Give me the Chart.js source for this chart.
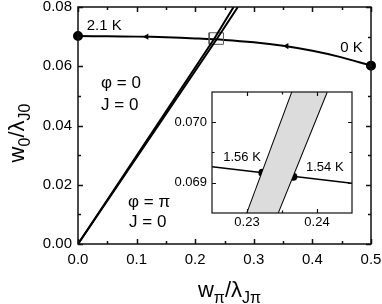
<!DOCTYPE html>
<html>
<head>
<meta charset="utf-8">
<script src="https://cdn.jsdelivr.net/npm/chart.js@4/dist/chart.umd.min.js"></script>
<style>
  html, body { margin: 0; padding: 0; background: #fff; }
  #wrap { position: relative; width: 382px; height: 304px; }
  #main { position: absolute; left: 0; top: 0; }
  #inset { position: absolute; left: 160px; top: 80px; }
</style>
</head>
<body>
<div id="wrap">
  <canvas id="main" width="382" height="304"></canvas>
  <canvas id="inset" width="200" height="150"></canvas>
</div>
<script>
// ---------- data (main plot) ----------
const xTicks = [0, 0.1, 0.2, 0.3, 0.4, 0.5];
const yTicks = [0, 0.02, 0.04, 0.06, 0.08];
const curveX = [0, 0.05, 0.1, 0.15, 0.2, 0.25, 0.3, 0.35, 0.4, 0.45, 0.5];
const curveY = [0.0702, 0.0701, 0.0700, 0.0698, 0.0694, 0.0689, 0.0681, 0.0669, 0.0652, 0.0630, 0.0602];
const arrowX = [0.117, 0.356];
const arrowY = [0.0700, 0.0668];
const lineAX = [0, 0.2322, 0.2655];
const lineAY = [0, 0.0692, 0.08];
const lineBX = [0, 0.2366, 0.2728];
const lineBY = [0, 0.0691, 0.08];
const boxX = [0.2238, 0.2482, 0.2482, 0.2238, 0.2238];
const boxY = [0.0674, 0.0674, 0.0713, 0.0713, 0.0674];

// ---------- data (inset) ----------
const insetXTicks = [0.23, 0.24];
const insetYTicks = [0.069, 0.070];
const insetCurveX = [0.225, 0.245];
const insetCurveY = [0.069265, 0.068991];
const bandLeftX = [0.23004, 0.23647];
const bandLeftY = [0.0685, 0.0705];
const bandRightX = [0.23439, 0.24139];
const bandRightY = [0.0685, 0.0705];
const crossX = [0.23219, 0.23662];
const crossY = [0.069166, 0.069100];

const FONT = "'Liberation Sans', Arial, Helvetica, sans-serif";
const pts = (xs, ys) => xs.map((x, i) => ({ x: x, y: ys[i] }));

function drawRich(ctx, parts, x, y) {
  let total = 0;
  parts.forEach(p => { ctx.font = p.size + 'px ' + FONT; p.w = ctx.measureText(p.t).width; total += p.w; });
  let cx = x - total / 2;
  ctx.textAlign = 'left';
  ctx.textBaseline = 'alphabetic';
  parts.forEach(p => { ctx.font = p.size + 'px ' + FONT; ctx.fillText(p.t, cx, y + (p.dy || 0)); cx += p.w; });
}

function frameAndTicks(chart, opt) {
  const ctx = chart.ctx, a = chart.chartArea;
  const xs = chart.scales.x, ys = chart.scales.y;
  ctx.save();
  ctx.strokeStyle = '#111';
  ctx.lineWidth = opt.lw;
  ctx.beginPath();
  const tick = (v, len, axis) => {
    if (axis === 'x') {
      const p = Math.round(xs.getPixelForValue(v)) + 0.5;
      ctx.moveTo(p, a.bottom); ctx.lineTo(p, a.bottom - len);
      ctx.moveTo(p, a.top); ctx.lineTo(p, a.top + len);
    } else {
      const p = Math.round(ys.getPixelForValue(v)) + 0.5;
      ctx.moveTo(a.left, p); ctx.lineTo(a.left + len, p);
      ctx.moveTo(a.right, p); ctx.lineTo(a.right - len, p);
    }
  };
  opt.xMajor.forEach(v => tick(v, opt.major, 'x'));
  opt.xMinor.forEach(v => tick(v, opt.minor, 'x'));
  opt.yMajor.forEach(v => tick(v, opt.major, 'y'));
  opt.yMinor.forEach(v => tick(v, opt.minor, 'y'));
  ctx.stroke();
  ctx.strokeRect(a.left, a.top, a.right - a.left, a.bottom - a.top);
  ctx.restore();
}

function drawAnnotations(chart, list) {
  const ctx = chart.ctx, xs = chart.scales.x, ys = chart.scales.y;
  ctx.save();
  ctx.fillStyle = '#000';
  ctx.textAlign = 'left';
  ctx.textBaseline = 'alphabetic';
  list.forEach(l => {
    ctx.font = l.size + 'px ' + FONT;
    ctx.fillText(l.text, xs.getPixelForValue(l.x), ys.getPixelForValue(l.y));
  });
  ctx.restore();
}

const mainAnnotations = [
  { text: '2.1 K', x: 0.0149, y: 0.0722, size: 15 },
  { text: '0 K', x: 0.4476, y: 0.0648, size: 15 },
  { text: 'φ = 0', x: 0.0393, y: 0.0527, size: 17 },
  { text: 'J = 0', x: 0.0393, y: 0.0452, size: 17 },
  { text: 'φ = π', x: 0.0854, y: 0.0125, size: 17 },
  { text: 'J = 0', x: 0.0871, y: 0.0057, size: 17 }
];
const insetAnnotations = [
  { text: '1.56 K', x: 0.22661, y: 0.06936, size: 13 },
  { text: '1.54 K', x: 0.23843, y: 0.069194, size: 13 }
];

const mainPlugin = {
  id: 'mainDeco',
  afterDraw(chart) {
    frameAndTicks(chart, {
      lw: 1.5, major: 5, minor: 3,
      xMajor: xTicks, xMinor: [0.05, 0.15, 0.25, 0.35, 0.45],
      yMajor: yTicks, yMinor: [0.01, 0.03, 0.05, 0.07]
    });
    drawAnnotations(chart, mainAnnotations);
    const ctx = chart.ctx, a = chart.chartArea;
    ctx.save();
    ctx.fillStyle = '#000';
    drawRich(ctx, [
      { t: 'w', size: 22 }, { t: 'π', size: 16, dy: 6 }, { t: '/', size: 22 },
      { t: 'λ', size: 22 }, { t: 'Jπ', size: 16, dy: 6 }
    ], (a.left + a.right) / 2 + 5, 297);
    ctx.translate(24, 133);
    ctx.rotate(-Math.PI / 2);
    drawRich(ctx, [
      { t: 'w', size: 22 }, { t: '0', size: 16, dy: 6 }, { t: '/', size: 22 },
      { t: 'λ', size: 22 }, { t: 'J0', size: 16, dy: 6 }
    ], 0, 0);
    ctx.restore();
  }
};

const insetPlugin = {
  id: 'insetDeco',
  beforeDatasetsDraw(chart) {
    const ctx = chart.ctx, a = chart.chartArea;
    ctx.save();
    ctx.fillStyle = '#fff';
    ctx.fillRect(a.left, a.top, a.right - a.left, a.bottom - a.top);
    ctx.restore();
  },
  afterDraw(chart) {
    frameAndTicks(chart, {
      lw: 1.2, major: 4, minor: 2.5,
      xMajor: insetXTicks, xMinor: [0.235],
      yMajor: insetYTicks, yMinor: [0.0695]
    });
    drawAnnotations(chart, insetAnnotations);
  }
};

function fixScale(w, h) {
  return function (scale) {
    if (w !== null) scale.width = w;
    if (h !== null) scale.height = h;
    scale.paddingTop = 0; scale.paddingBottom = 0;
    scale.paddingLeft = 0; scale.paddingRight = 0;
  };
}

new Chart(document.getElementById('main'), {
  type: 'scatter',
  data: {
    datasets: [
      { data: pts(lineAX, lineAY), showLine: true, borderColor: '#000', borderWidth: 2, pointRadius: 0 },
      { data: pts(lineBX, lineBY), showLine: true, borderColor: '#000', borderWidth: 2, pointRadius: 0 },
      { data: pts(boxX, boxY), showLine: true, borderColor: '#555', borderWidth: 1, pointRadius: 0 },
      { data: pts(curveX, curveY), showLine: true, borderColor: '#000', borderWidth: 2, tension: 0.3,
        clip: false, backgroundColor: '#000',
        pointRadius: c => (c.dataIndex === 0 || c.dataIndex === curveX.length - 1) ? 4 : 0 },
      { data: pts(arrowX, arrowY), showLine: false, pointStyle: 'triangle', rotation: -90,
        pointRadius: 3.5, backgroundColor: '#000', borderColor: '#000', borderWidth: 0 }
    ]
  },
  options: {
    responsive: false, animation: false, devicePixelRatio: 1,
    layout: { padding: { left: 0, top: 7, right: 11, bottom: 0 } },
    plugins: { legend: { display: false }, tooltip: { enabled: false } },
    scales: {
      x: {
        type: 'linear', min: 0, max: 0.5,
        afterBuildTicks: s => { s.ticks = xTicks.map(v => ({ value: v })); },
        afterFit: fixScale(null, 60),
        grid: { display: false, drawTicks: false }, border: { display: false },
        ticks: { callback: v => v.toFixed(1), color: '#000', font: { family: FONT, size: 15 }, padding: 7, maxRotation: 0 }
      },
      y: {
        type: 'linear', min: 0, max: 0.08,
        afterBuildTicks: s => { s.ticks = yTicks.map(v => ({ value: v })); },
        afterFit: fixScale(78, null),
        grid: { display: false, drawTicks: false }, border: { display: false },
        ticks: { callback: v => v.toFixed(2), color: '#000', font: { family: FONT, size: 15 }, padding: 6 }
      }
    }
  },
  plugins: [mainPlugin]
});

new Chart(document.getElementById('inset'), {
  type: 'scatter',
  data: {
    datasets: [
      { data: pts(bandLeftX.concat(bandRightX.slice().reverse()), bandLeftY.concat(bandRightY.slice().reverse())),
        showLine: true, fill: 'shape', backgroundColor: '#dcdcdc', borderWidth: 0, borderColor: 'rgba(0,0,0,0)', pointRadius: 0 },
      { data: pts(bandLeftX, bandLeftY), showLine: true, borderColor: '#000', borderWidth: 2, pointRadius: 0 },
      { data: pts(bandRightX, bandRightY), showLine: true, borderColor: '#000', borderWidth: 2, pointRadius: 0 },
      { data: pts(insetCurveX, insetCurveY), showLine: true, borderColor: '#000', borderWidth: 1.5, pointRadius: 0 },
      { data: pts(crossX, crossY), showLine: false, pointRadius: 4, backgroundColor: '#000', borderColor: '#000', borderWidth: 0 }
    ]
  },
  options: {
    responsive: false, animation: false, devicePixelRatio: 1,
    layout: { padding: { left: 0, top: 12, right: 8, bottom: 0 } },
    plugins: { legend: { display: false }, tooltip: { enabled: false } },
    scales: {
      x: {
        type: 'linear', min: 0.225, max: 0.245,
        afterBuildTicks: s => { s.ticks = insetXTicks.map(v => ({ value: v })); },
        afterFit: fixScale(null, 17),
        grid: { display: false, drawTicks: false }, border: { display: false },
        ticks: { callback: v => v.toFixed(2), color: '#000', font: { family: FONT, size: 13 }, padding: 2, maxRotation: 0 }
      },
      y: {
        type: 'linear', min: 0.0685, max: 0.0705,
        afterBuildTicks: s => { s.ticks = insetYTicks.map(v => ({ value: v })); },
        afterFit: fixScale(52, null),
        grid: { display: false, drawTicks: false }, border: { display: false },
        ticks: { callback: v => v.toFixed(3), color: '#000', font: { family: FONT, size: 13 }, padding: 5 }
      }
    }
  },
  plugins: [insetPlugin]
});
</script>
</body>
</html>
